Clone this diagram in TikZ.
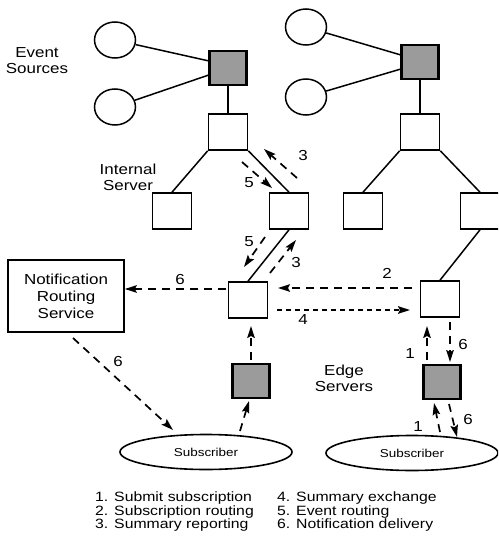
\documentclass[tikz,border=0pt]{standalone}
\usepackage{fontspec}
\setmainfont{Liberation Sans}[FakeStretch=1.17]
\usetikzlibrary{arrows.meta,shapes.geometric}
\definecolor{shade}{RGB}{155,155,155}
\begin{document}
\begin{tikzpicture}[x=1pt,y=-1pt,
 box/.style={draw,line width=1.6pt,minimum width=39pt,minimum height=36pt,inner sep=0pt},
 srv/.style={box,fill=shade,line width=2.6pt,minimum width=37pt,minimum height=34pt},
 src/.style={draw,ellipse,line width=1.5pt,minimum width=41pt,minimum height=36pt,inner sep=0pt},
 sub/.style={draw,ellipse,line width=1.6pt,minimum width=172pt,minimum height=35pt,inner sep=0pt,font=\fontsize{11.5}{12}\selectfont},
 tree/.style={line width=1.5pt},
 flow/.style={line width=1.7pt,dash pattern=on 8pt off 6pt,-{Stealth[length=12pt,width=7.5pt,inset=2pt]}},
 flowd/.style={flow,dash pattern=on 5pt off 4pt},
 lab/.style={font=\fontsize{14.5}{16}\selectfont,inner sep=0pt},
 leg/.style={font=\fontsize{13.5}{15}\selectfont,inner sep=0pt,anchor=west}
]
\useasboundingbox (0,0) rectangle (498,543);
\clip (0,0) rectangle (498,543);

% ---- left tree ----
\node[src] (lc1) at (115,40) {};
\node[src] (lc2) at (115,107) {};
\node[srv] (ls) at (228,68) {};
\node[box] (lp) at (228,132) {};
\node[box] (ll) at (172,211) {};
\node[box] (lr) at (289,211) {};
\node[box] (le) at (248,300) {};
\node[srv] (le2) at (251,381) {};
\node[sub] (lsub) at (206,452) {Subscriber};
\draw[tree] (lc1) -- (ls.160);
\draw[tree] (lc2) -- (ls.200);
\draw[tree] (ls) -- (lp);
\draw[tree] (lp.south west) -- (ll.north);
\draw[tree] (lp.south east) -- (lr.north);
\draw[tree] (lr.south) -- (le.north);

% ---- right tree ----
\node[src] (rc1) at (306,27) {};
\node[src] (rc2) at (306,97) {};
\node[srv] (rs) at (420,62) {};
\node[box] (rp) at (420,132) {};
\node[box] (rm) at (363,211) {};
\node[box] (rr) at (480,211) {};
\node[box] (re) at (440,299) {};
\node[srv] (re2) at (442,382) {};
\node[sub] (rsub) at (412,453) {Subscriber};
\draw[tree] (rc1) -- (rs.160);
\draw[tree] (rc2) -- (rs.200);
\draw[tree] (rs) -- (rp);
\draw[tree] (rp.south west) -- (rm.north);
\draw[tree] (rp.south east) -- (rr.north);
\draw[tree] (rr.south) -- (re.north);

% ---- notification routing service ----
\node[draw,line width=1.6pt,minimum width=116pt,minimum height=72pt,align=center,font=\fontsize{14.5}{17}\selectfont] (nrs) at (66,296) {Notification\\Routing\\Service};

% ---- labels ----
\node[lab,align=center] (evs) at (37,61) {Event\\Sources};
\node[lab,align=center] (ins) at (128,177) {Internal\\Server};
\node[lab,align=center] (eds) at (344,378) {Edge\\Servers};

% ---- flow arrows ----
\coordinate (a3t) at (297,178); \coordinate (a3h) at (264,149);
\coordinate (a5t) at (242,162); \coordinate (a5h) at (272,188);
\coordinate (b5t) at (265,237); \coordinate (b5h) at (244,267);
\coordinate (b3t) at (270,273); \coordinate (b3h) at (296,240);
\coordinate (h6t) at (226,289); \coordinate (h6h) at (nrs.east |- h6t);
\coordinate (h2t) at (412,288); \coordinate (h2h) at (278,288);
\coordinate (h4t) at (277,310); \coordinate (h4h) at (410,310);
\coordinate (d6t) at (73,338);  \coordinate (d6h) at (173,430);
\coordinate (lv1t) at (251,360); \coordinate (lv1h) at (251,326);
\coordinate (lv2t) at (240,431); \coordinate (lv2h) at (249,401);
\coordinate (r1t) at (427,360); \coordinate (r1h) at (427,326);
\coordinate (r6t) at (450,322); \coordinate (r6h) at (450,362);
\coordinate (s1t) at (440,432); \coordinate (s1h) at (434,403);
\coordinate (s6t) at (449,404); \coordinate (s6h) at (457,437);

\draw[flow] (a3t) -- (a3h);
\draw[flow] (a5t) -- (a5h);
\draw[flow] (b5t) -- (b5h);
\draw[flow] (b3t) -- (b3h);
\draw[flow] (h6t) -- (h6h);
\draw[flow] (h2t) -- (h2h);
\draw[flowd] (h4t) -- (h4h);
\draw[flow] (d6t) -- (d6h);
\draw[flow] (lv1t) -- (lv1h);
\draw[flow] (lv2t) -- (lv2h);
\draw[flow] (r1t) -- (r1h);
\draw[flow] (r6t) -- (r6h);
\draw[flow] (s1t) -- (s1h);
\draw[flow] (s6t) -- (s6h);

\node[lab] (n3a) at (303,156) {3};
\node[lab] (n5a) at (249,183) {5};
\node[lab] (n5b) at (249,242) {5};
\node[lab] (n3b) at (296,263) {3};
\node[lab] (n6h) at (180,280) {6};
\node[lab] (n2) at (387,273) {2};
\node[lab] (n4) at (303,320) {4};
\node[lab] (n6d) at (118,362) {6};
\node[lab] (n1r) at (410,354) {1};
\node[lab] (n6r) at (463,345) {6};
\node[lab] (n1s) at (418,427) {1};
\node[lab] (n6s) at (468,420) {6};

% ---- legend ----
\node[leg] (g1) at (95,498) {1. Submit subscription};
\node[leg] (g2) at (95,512) {2. Subscription routing};
\node[leg] (g3) at (95,525.5) {3. Summary reporting};
\node[leg] (g4) at (277,498) {4. Summary exchange};
\node[leg] (g5) at (277,512) {5. Event routing};
\node[leg] (g6) at (277,525.5) {6. Notification delivery};
\end{tikzpicture}
\end{document}
